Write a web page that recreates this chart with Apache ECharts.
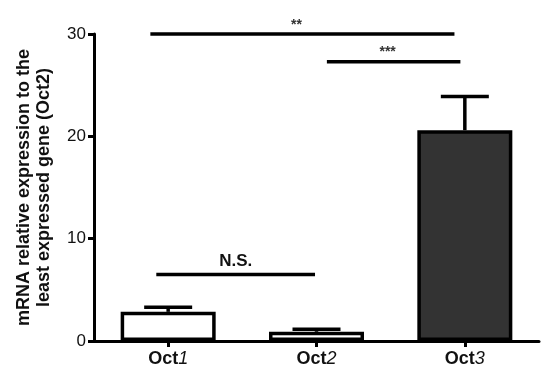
<!DOCTYPE html>
<html>
<head>
<meta charset="utf-8">
<script src="https://cdn.jsdelivr.net/npm/echarts@6/dist/echarts.min.js"></script>
<style>
  html, body { margin: 0; padding: 0; background: #fff; }
  #main { width: 550px; height: 378px; }
</style>
</head>
<body>
<div id="main"></div>
<script>
// data
var categories = ['1', '2', '3'];
var means = [2.85, 0.9, 20.6];
var errTop = [3.3, 1.15, 23.9];
var barColors = ['#ffffff', '#ffffff', '#333333'];
// significance brackets: [start, end] in category units, height, label
var sigStart = [-0.12, 1.07, -0.08];
var sigEnd = [1.93, 1.97, 0.99];
var sigY = [30, 27.3, 6.5];
var sigText = ['**', '***', 'N.S.'];
var yTicks = [0, 10, 20, 30];

var chart = echarts.init(document.getElementById('main'), null, { renderer: 'canvas' });

var errData = categories.map(function (c, i) { return [i, means[i], errTop[i]]; });
var sigData = sigText.map(function (t, i) { return [sigStart[i], sigEnd[i], sigY[i], t]; });

chart.setOption({
  animation: false,
  grid: { left: 94, right: 11, top: 34, bottom: 37 },
  xAxis: [{
    type: 'category',
    data: categories,
    axisLine: { onZero: false, lineStyle: { color: '#000', width: 3 } },
    axisTick: { show: true, alignWithLabel: true, length: 6, lineStyle: { color: '#000', width: 3 } },
    axisLabel: {
      margin: 9,
      formatter: function (v) { return '{a|Oct}{b|' + v + '}'; },
      rich: {
        a: { fontFamily: 'Liberation Sans, Arial', fontSize: 18, fontWeight: 'bold', color: '#111' },
        b: { fontFamily: 'Liberation Sans, Arial', fontSize: 18, fontStyle: 'italic', color: '#111' }
      }
    }
  }, {
    type: 'value', min: -0.5, max: 2.5, show: false
  }],
  yAxis: {
    type: 'value',
    min: 0, max: 30, interval: 10,
    name: 'mRNA relative expression to the\nleast expressed gene (Oct2)',
    nameLocation: 'middle',
    nameGap: 40,
    nameTextStyle: { fontFamily: 'Liberation Sans, Arial', fontSize: 18, fontWeight: 'bold', color: '#111', lineHeight: 20 },
    splitLine: { show: false },
    axisLine: { show: true, onZero: false, lineStyle: { color: '#000', width: 3 } },
    axisTick: { show: true, length: 6, lineStyle: { color: '#000', width: 3 } },
    axisLabel: {
      margin: 8,
      fontFamily: 'Liberation Sans, Arial', fontSize: 17, color: '#111',
      formatter: function (v) { return yTicks.indexOf(v) >= 0 ? String(v) : ''; }
    }
  },
  series: [{
    type: 'bar',
    barWidth: 95,
    data: means.map(function (v, i) {
      return { value: v, itemStyle: { color: barColors[i], borderColor: '#000', borderWidth: 3.5 } };
    }),
    z: 2
  }, {
    type: 'custom',
    data: errData,
    z: 3,
    renderItem: function (params, api) {
      var base = api.coord([api.value(0), api.value(1)]);
      var top = api.coord([api.value(0), api.value(2)]);
      var half = 24;
      var st = { stroke: '#000', lineWidth: 3.5 };
      return {
        type: 'group',
        children: [
          { type: 'line', shape: { x1: base[0], y1: base[1], x2: top[0], y2: top[1] }, style: st },
          { type: 'line', shape: { x1: top[0] - half, y1: top[1], x2: top[0] + half, y2: top[1] }, style: st }
        ]
      };
    }
  }, {
    type: 'custom',
    xAxisIndex: 1,
    data: sigData,
    z: 4,
    renderItem: function (params, api) {
      var a = api.coord([api.value(0), api.value(2)]);
      var b = api.coord([api.value(1), api.value(2)]);
      var label = sigText[params.dataIndex];
      var ns = label === 'N.S.';
      return {
        type: 'group',
        children: [
          { type: 'line', shape: { x1: a[0], y1: a[1], x2: b[0], y2: b[1] }, style: { stroke: '#000', lineWidth: 3.5 } },
          {
            type: 'text',
            style: {
              x: (a[0] + b[0]) / 2 - (ns ? 0 : 6),
              y: a[1] - (ns ? 5 : 2),
              text: label,
              textAlign: 'center',
              textVerticalAlign: 'bottom',
              fontFamily: 'Liberation Sans, Arial',
              fontSize: ns ? 17 : 14,
              fontWeight: 'bold',
              fill: ns ? '#111' : '#333'
            }
          }
        ]
      };
    }
  }]
});
</script>
</body>
</html>
